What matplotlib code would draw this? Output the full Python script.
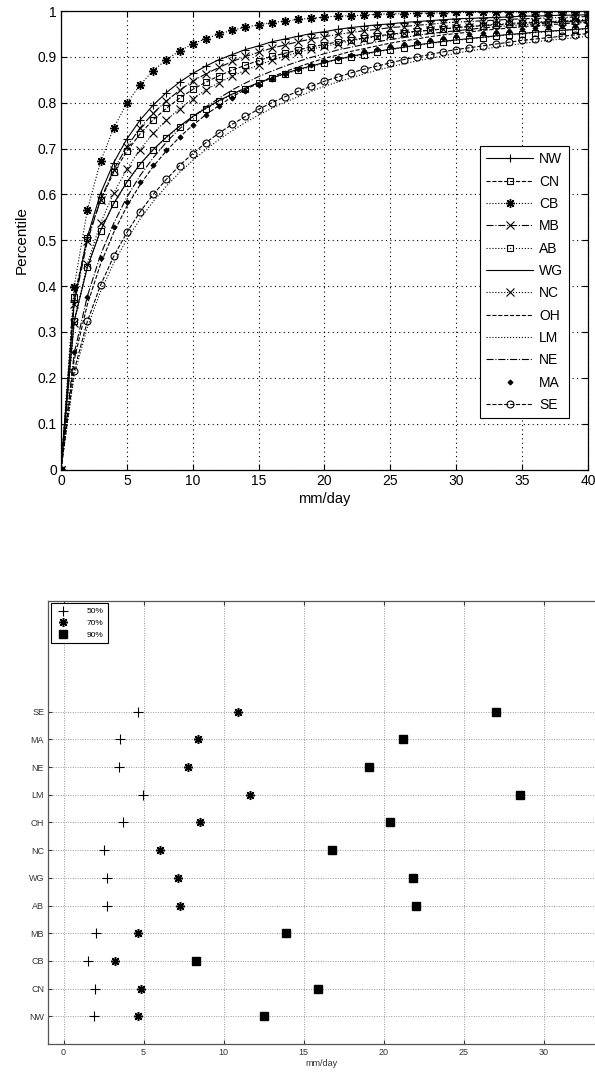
#!/usr/bin/env python
# Precipitation percentile curves and 50/70/90% thresholds per region

import matplotlib
matplotlib.use('Agg')
import matplotlib.pyplot as plt
import numpy as np

plt.rcParams['font.family'] = ['Liberation Sans', 'DejaVu Sans']

# sampled rain amounts (mm/day) for the percentile curves
rain = np.arange(41)

regions = ['NW', 'CN', 'CB', 'MB', 'AB', 'WG', 'NC', 'OH', 'LM', 'NE', 'MA', 'SE']

NW = [0, .365, .508, .602, .669, .721, .762, .795, .822, .845, .864, .880, .894, .905, .916, .924, .933, .939, .945, .951, .955,
      .960, .964, .967, .970, .972, .975, .977, .979, .981, .983, .984, .985, .986, .987, .989, .989, .990, .991, .991, .992]
CN = [0, .376, .504, .587, .648, .694, .732, .763, .788, .810, .829, .845, .859, .871, .882, .892, .901, .908, .915, .922, .927,
      .933, .937, .941, .946, .949, .953, .956, .958, .961, .964, .966, .968, .970, .971, .973, .975, .976, .977, .979, .980]
CB = [0, .399, .566, .672, .745, .799, .839, .870, .894, .913, .928, .940, .950, .958, .965, .970, .975, .978, .982, .984, .987,
      .989, .990, .991, .993, .994, .994, .995, .996, .996, .997, .997, .997, .998, .998, .998, .998, .998, .999, .999, .999]
MB = [0, .361, .498, .588, .654, .704, .745, .777, .804, .827, .847, .863, .877, .890, .901, .910, .919, .926, .933, .939, .944,
      .949, .953, .957, .960, .964, .966, .969, .971, .974, .976, .977, .979, .980, .982, .983, .984, .985, .986, .987, .988]
AB = [0, .324, .442, .521, .580, .626, .665, .697, .724, .748, .769, .787, .803, .818, .831, .842, .853, .863, .871, .879, .887,
      .894, .900, .905, .911, .916, .920, .925, .929, .933, .936, .939, .942, .945, .948, .950, .953, .955, .957, .959, .961]
WG = [0, .324, .441, .521, .580, .627, .666, .698, .725, .749, .770, .788, .805, .819, .832, .844, .854, .864, .873, .880, .888,
      .895, .901, .907, .912, .917, .921, .926, .930, .934, .937, .940, .943, .946, .949, .951, .954, .956, .958, .960, .962]
NC = [0, .319, .449, .537, .603, .655, .698, .733, .762, .787, .809, .828, .844, .858, .871, .882, .893, .901, .910, .917, .923,
      .929, .935, .940, .944, .948, .952, .955, .958, .961, .964, .966, .969, .971, .973, .975, .976, .977, .979, .980, .982]
OH = [0, .239, .360, .448, .517, .574, .621, .661, .695, .725, .751, .774, .794, .813, .829, .843, .856, .868, .878, .888, .897,
      .904, .912, .918, .924, .930, .935, .939, .944, .948, .951, .954, .958, .960, .963, .966, .968, .970, .972, .974, .975]
LM = [0, .206, .310, .388, .450, .502, .546, .585, .618, .648, .674, .698, .720, .739, .757, .773, .788, .801, .813, .825, .836,
      .845, .854, .863, .871, .878, .885, .891, .897, .902, .908, .913, .917, .921, .925, .929, .933, .936, .939, .942, .945]
NE = [0, .253, .378, .468, .537, .594, .641, .680, .714, .743, .769, .791, .810, .828, .843, .857, .869, .880, .890, .899, .907,
      .915, .921, .927, .933, .938, .942, .947, .951, .954, .957, .960, .963, .966, .968, .970, .972, .974, .976, .977, .979]
MA = [0, .257, .377, .462, .529, .583, .628, .665, .698, .726, .751, .773, .792, .810, .825, .839, .851, .863, .873, .882, .891,
      .898, .905, .912, .918, .923, .928, .933, .937, .941, .945, .949, .952, .955, .957, .960, .962, .965, .967, .968, .970]
SE = [0, .216, .323, .402, .465, .517, .562, .600, .633, .663, .689, .713, .734, .753, .770, .786, .800, .813, .825, .836, .847,
      .856, .865, .873, .880, .887, .894, .900, .905, .911, .916, .920, .924, .928, .932, .936, .939, .942, .945, .948, .951]

# thresholds (mm/day), same region order as above
p50 = [1.93, 1.96, 1.54, 2.02, 2.71, 2.71, 2.54, 3.73, 4.96, 3.44, 3.54, 4.65]
p70 = [4.63, 4.83, 3.23, 4.65, 7.29, 7.13, 6.02, 8.54, 11.65, 7.75, 8.40, 10.90]
p90 = [12.5, 15.9, 8.3, 13.9, 22.0, 21.8, 16.8, 20.4, 28.5, 19.1, 21.2, 27.0]

asterisk = (8, 2, 0)   # matlab style '*'

# line style, marker for each curve (matlab look)
styles = {'NW': ('-', '+'), 'CN': ('--', 's'), 'CB': (':', asterisk), 'MB': ('-.', 'x'),
          'AB': (':', 's'), 'WG': ('-', None), 'NC': (':', 'x'), 'OH': ('--', None),
          'LM': (':', None), 'NE': ('-.', None), 'MA': ('none', 'D'), 'SE': ('--', 'o')}
curves = {'NW': NW, 'CN': CN, 'CB': CB, 'MB': MB, 'AB': AB, 'WG': WG, 'NC': NC,
          'OH': OH, 'LM': LM, 'NE': NE, 'MA': MA, 'SE': SE}

fig = plt.figure(figsize=(5.95, 10.72), dpi=100)

# ---- top: percentile curves
ax1 = fig.add_axes([0.1025, 0.562, 0.8857, 0.4277])
for name in regions:
    ls, mk = styles[name]
    ms = 5
    mfc = 'none'
    mew = 0.8
    if mk == 'D':
        ms = 2.5
        mfc = 'k'
    elif mk == asterisk:
        ms = 6.5
        mew = 1.0
    elif mk in ('+', 'x'):
        ms = 6
    ax1.plot(rain, curves[name], color='k', linestyle=ls, marker=mk, markersize=ms,
             markerfacecolor=mfc, markeredgecolor='k', markeredgewidth=mew, linewidth=0.8, label=name)
ax1.set_xlim(0, 40)
ax1.set_ylim(0, 1)
ax1.set_xticks(np.arange(0, 41, 5))
ax1.set_yticks(np.arange(0, 1.01, 0.1))
ax1.set_yticklabels(['0', '0.1', '0.2', '0.3', '0.4', '0.5', '0.6', '0.7', '0.8', '0.9', '1'])
ax1.tick_params(direction='in', top=True, right=True, length=4, width=0.8, labelsize=10, pad=3)
ax1.grid(True, color='k', linestyle=(0, (1, 3)), linewidth=0.8)
for s in ax1.spines.values():
    s.set_linewidth(0.9)
ax1.set_xlabel('mm/day', fontsize=10.5, labelpad=3)
ax1.set_ylabel('Percentile', fontsize=11, labelpad=6)
leg = ax1.legend(loc='lower left', bbox_to_anchor=(0.795, 0.112), fontsize=10, handlelength=3.4,
                 handletextpad=0.4, labelspacing=0.6, borderpad=0.45, borderaxespad=0, fancybox=False,
                 framealpha=1)
leg.get_frame().set_edgecolor('k')
leg.get_frame().set_linewidth(0.8)

# ---- bottom: 50/70/90 % thresholds by region
ax2 = fig.add_axes([0.0813, 0.0261, 0.9187, 0.4133])
ypos = np.arange(1, len(regions) + 1)
ax2.plot(p50, ypos, linestyle='none', marker='+', markersize=7, color='k', markeredgewidth=0.8, label='50%')
ax2.plot(p70, ypos, linestyle='none', marker=asterisk, markersize=6.5, color='k', markeredgewidth=1.1, label='70%')
ax2.plot(p90, ypos, linestyle='none', marker='s', markersize=6, color='k', label='90%')
ax2.set_xlim(-0.95, 33.2)
ax2.set_ylim(0, 16)
ax2.set_xticks(np.arange(0, 31, 5))
ax2.set_yticks(ypos)
ax2.set_yticklabels(regions)
ax2.tick_params(direction='in', top=True, length=3, width=0.8, labelsize=6.5, colors='#333333', pad=3)
ax2.grid(True, color='#999999', linestyle=(0, (1, 1.5)), linewidth=0.7)
ax2.spines['right'].set_visible(False)
for s in ax2.spines.values():
    s.set_linewidth(0.9)
    s.set_color('#555555')
ax2.set_xlabel('mm/day', fontsize=6.5, color='#333333', labelpad=1)
leg2 = ax2.legend(loc='upper left', fontsize=6, handletextpad=1.8, borderpad=0.5, labelspacing=0.45,
                  borderaxespad=0.3, fancybox=False, framealpha=1, handlelength=2)
leg2.get_frame().set_edgecolor('k')
leg2.get_frame().set_linewidth(0.8)

plt.savefig('out.png', dpi=100)
